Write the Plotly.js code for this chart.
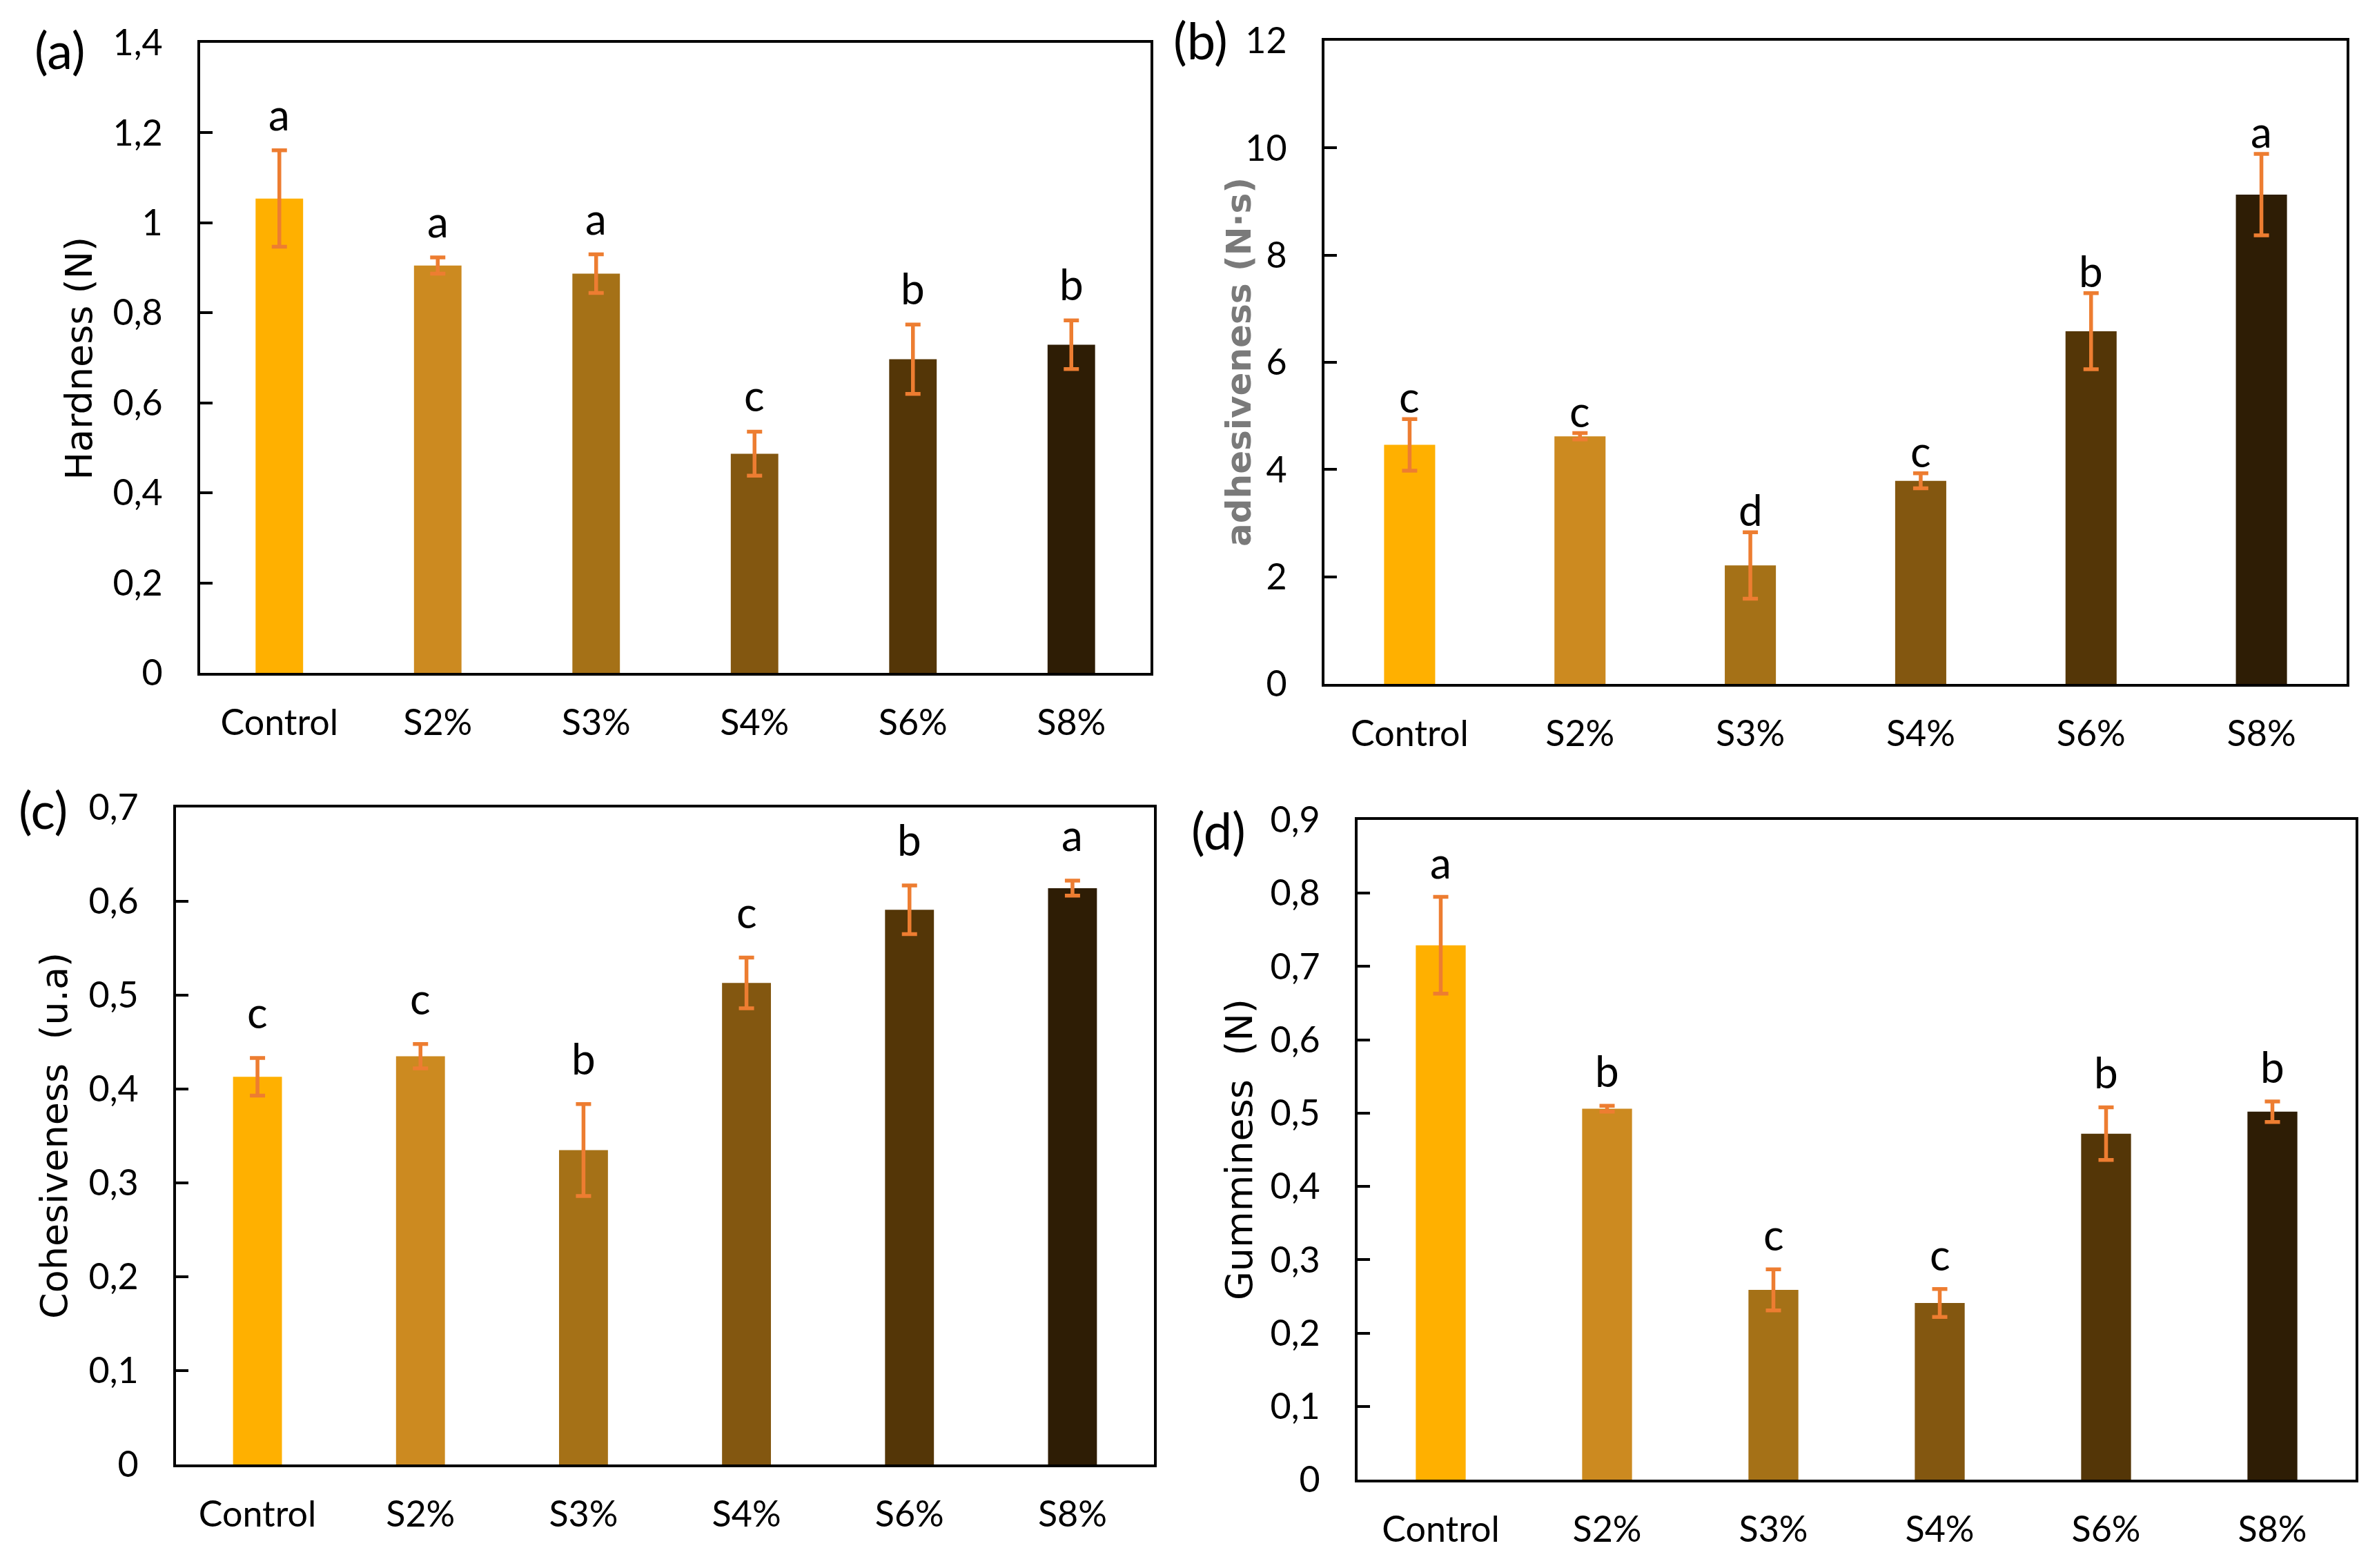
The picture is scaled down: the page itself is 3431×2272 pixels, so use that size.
<!DOCTYPE html>
<html>
<head>
<meta charset="utf-8">
<script src="https://cdn.plot.ly/plotly-3.0.1.min.js"></script>
<style>html,body{margin:0;padding:0;background:#fff;}#chart{width:3431px;height:2272px;}</style>
</head>
<body>
<div id="chart"></div>
<script>
const categories = ["Control", "S2%", "S3%", "S4%", "S6%", "S8%"];
const barColors = ["#FFB000", "#CC8A20", "#A57117", "#835710", "#543607", "#2E1D05"];

const hardness = [1.054, 0.905, 0.887, 0.487, 0.697, 0.729];
const hardnessErr = [0.107, 0.018, 0.043, 0.049, 0.077, 0.054];
const hardnessLetters = ["a", "a", "a", "c", "b", "b"];

const adhesiveness = [4.46, 4.62, 2.21, 3.79, 6.58, 9.13];
const adhesivenessErr = [0.48, 0.06, 0.62, 0.14, 0.71, 0.76];
const adhesivenessLetters = ["c", "c", "d", "c", "b", "a"];

const cohesiveness = [0.413, 0.435, 0.335, 0.513, 0.591, 0.614];
const cohesivenessErr = [0.020, 0.013, 0.049, 0.027, 0.026, 0.008];
const cohesivenessLetters = ["c", "c", "b", "c", "b", "a"];

const gumminess = [0.729, 0.506, 0.259, 0.241, 0.472, 0.502];
const gumminessErr = [0.066, 0.004, 0.028, 0.019, 0.036, 0.014];
const gumminessLetters = ["a", "b", "c", "c", "b", "b"];

const W = 3431, H = 2272;
const fx = x => x / W;
const fy = y => 1 - y / H;

const panels = [
  {key: "", tag: "(a)", title: "Hardness (N)", vals: hardness, err: hardnessErr, letters: hardnessLetters,
   range: [0, 1.4], dtick: 0.2, box: [290, 1667, 62, 975], tagPos: [87, 72], titleX: 114,
   titleColor: "#000", titleBold: false, letterShift: 14},
  {key: "2", tag: "(b)", title: "adhesiveness (N·s)", vals: adhesiveness, err: adhesivenessErr, letters: adhesivenessLetters,
   range: [0, 12], dtick: 2, box: [1919, 3400, 59, 991], tagPos: [1739, 57], titleX: 1795,
   titleColor: "#7A7A7A", titleBold: true, letterShift: -6},
  {key: "3", tag: "(c)", title: "Cohesiveness  (u.a)", vals: cohesiveness, err: cohesivenessErr, letters: cohesivenessLetters,
   range: [0, 0.7], dtick: 0.1, box: [255, 1672, 1170, 2122], tagPos: [62, 1172], titleX: 78,
   titleColor: "#000", titleBold: false, letterShift: 28},
  {key: "4", tag: "(d)", title: "Gumminess  (N)", vals: gumminess, err: gumminessErr, letters: gumminessLetters,
   range: [0, 0.9], dtick: 0.1, box: [1967, 3413, 1188, 2144], tagPos: [1765, 1202], titleX: 1795,
   titleColor: "#000", titleBold: false, letterShift: 12}
];

const tickFont = {family: "Lato, 'Noto Sans', sans-serif", size: 52, color: "#000"};
const data = [];
const annotations = [];
const layout = {
  width: W, height: H,
  margin: {l: 0, r: 0, t: 0, b: 0},
  paper_bgcolor: "#fff", plot_bgcolor: "#fff",
  showlegend: false,
  separators: ", ",
  bargap: 0.7,
  annotations: annotations
};

panels.forEach(p => {
  const xa = "x" + p.key, ya = "y" + p.key;
  data.push({
    type: "bar", x: categories, y: p.vals,
    xaxis: xa, yaxis: ya,
    marker: {color: barColors, line: {width: 0}},
    error_y: {type: "data", array: p.err, visible: true, color: "#ED7D31", thickness: 5.5, width: 11},
    hoverinfo: "skip"
  });
  const [l, r, t, b] = p.box;
  layout["xaxis" + p.key] = {
    domain: [fx(l), fx(r)], anchor: ya,
    showline: true, linecolor: "#000", linewidth: 4, mirror: true,
    ticks: "", showgrid: false, zeroline: false,
    tickfont: tickFont, ticklabelstandoff: 24, fixedrange: true
  };
  layout["yaxis" + p.key] = {
    domain: [fy(b), fy(t)], anchor: xa,
    range: p.range, dtick: p.dtick, tick0: 0,
    showline: true, linecolor: "#000", linewidth: 4, mirror: true,
    ticks: "inside", ticklen: 18, tickwidth: 4, tickcolor: "#000",
    showgrid: false, zeroline: false,
    tickfont: tickFont, ticklabelstandoff: 40, fixedrange: true
  };
  annotations.push({
    xref: "paper", yref: "paper", x: fx(p.tagPos[0]), y: fy(p.tagPos[1]),
    xanchor: "center", yanchor: "middle", showarrow: false,
    text: p.tag, font: {family: "Lato, sans-serif", size: 74, color: "#000"}
  });
  annotations.push({
    xref: "paper", yref: "paper", x: fx(p.titleX), y: fy((t + b) / 2),
    xanchor: "center", yanchor: "middle", showarrow: false, textangle: -90,
    text: p.titleBold ? "<b>" + p.title + "</b>" : p.title,
    font: {family: "'DejaVu Sans', Verdana, sans-serif", size: p.titleBold ? 50 : 54, color: p.titleColor}
  });
  categories.forEach((c, i) => {
    annotations.push({
      xref: xa, yref: ya, x: c, y: p.vals[i] + p.err[i],
      xanchor: "center", yanchor: "bottom", yshift: p.letterShift, showarrow: false,
      text: p.letters[i], font: {family: "Lato, sans-serif", size: 62, color: "#000"}
    });
  });
});

Plotly.newPlot("chart", data, layout, {staticPlot: true, displayModeBar: false});
</script>
</body>
</html>
